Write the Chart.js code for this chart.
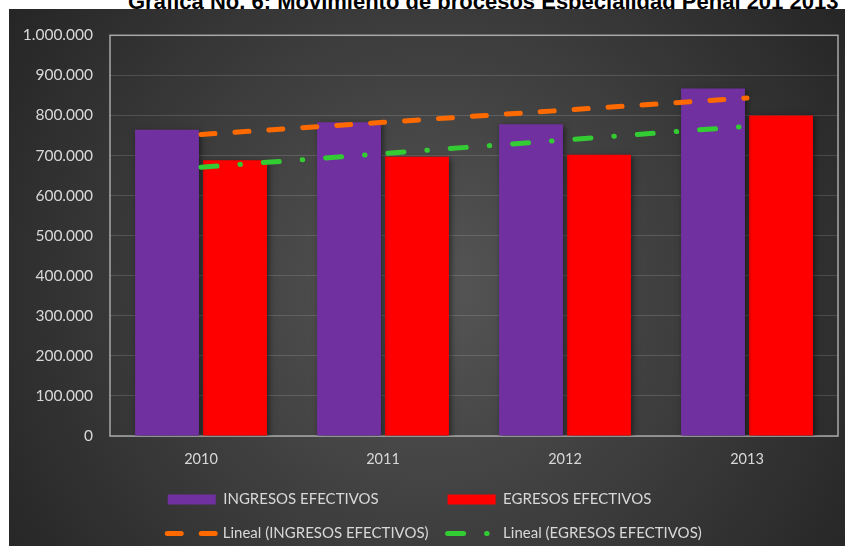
<!DOCTYPE html>
<html>
<head>
<meta charset="utf-8">
<script src="https://cdn.jsdelivr.net/npm/chart.js@4.4.1/dist/chart.umd.min.js"></script>
<style>
  html, body { margin:0; padding:0; background:#ffffff; width:845px; height:546px; overflow:hidden; position:relative; }
  #title { position:absolute; left:128px; top:-9px; font:bold 22px "Liberation Sans", Arial, sans-serif; line-height:21px; color:#000; white-space:nowrap; z-index:0; }
  #wrap { position:absolute; left:9px; top:9px; width:839px; height:542px; z-index:1; }
</style>
</head>
<body>
<div id="title">Gráfica No. 6: Movimiento de procesos Especialidad Penal 201 2013</div>
<div id="wrap"><canvas id="c" width="839" height="542"></canvas></div>
<script>
// ---- data ----
const categories = ['2010', '2011', '2012', '2013'];
const ingresos = [764000, 783000, 778000, 867000];
const egresos  = [688000, 697000, 702000, 800000];
const seriesLabels = ['INGRESOS EFECTIVOS', 'EGRESOS EFECTIVOS'];
const trendLabels = ['Lineal (INGRESOS EFECTIVOS)', 'Lineal (EGRESOS EFECTIVOS)'];
const yTickValues = [0, 100000, 200000, 300000, 400000, 500000, 600000, 700000, 800000, 900000, 1000000];

// least-squares linear trend of a series (Excel "Lineal" trendline)
function linearTrend(vals) {
  const n = vals.length;
  const xs = vals.map((_, i) => i + 1);
  const mx = xs.reduce((a, b) => a + b, 0) / n;
  const my = vals.reduce((a, b) => a + b, 0) / n;
  let sxy = 0, sxx = 0;
  for (let i = 0; i < n; i++) { sxy += (xs[i] - mx) * (vals[i] - my); sxx += (xs[i] - mx) ** 2; }
  const b = sxy / sxx, a = my - b * mx;
  return xs.map(x => a + b * x);
}
const fmt = v => String(v).replace(/\B(?=(\d{3})+(?!\d))/g, '.');

const FONT = 'Lato';
const TXT = '#d8d8d8';
const LEG_SIZE = 15;

// measure helper to align legend columns
const mctx = document.createElement('canvas').getContext('2d');
mctx.font = LEG_SIZE + 'px ' + FONT;
function padTo(text, ref) {
  const target = mctx.measureText(ref).width;
  let t = text;
  while (mctx.measureText(t + ' ').width <= target + 0.5) t += ' ';
  return t;
}

const bgPlugin = {
  id: 'bg',
  beforeDraw(chart) {
    const { ctx, width, height } = chart;
    ctx.save();
    const g = ctx.createRadialGradient(width * 0.5, height * 0.52, 0, width * 0.5, height * 0.52, width * 0.62);
    g.addColorStop(0, '#565656');
    g.addColorStop(1, '#242424');
    ctx.fillStyle = g;
    ctx.fillRect(0, 0, width, height);
    ctx.restore();
  },
  beforeDatasetsDraw(chart) {
    const { ctx, chartArea: a } = chart;
    ctx.save();
    ctx.strokeStyle = '#a8a8a8';
    ctx.lineWidth = 1.5;
    ctx.strokeRect(a.left, a.top, a.right - a.left, a.bottom - a.top);
    ctx.restore();
  },
  beforeDatasetDraw(chart, args) {
    if (chart.data.datasets[args.index].type === 'bar') {
      const ctx = chart.ctx;
      ctx.save();
      ctx.shadowColor = 'rgba(0,0,0,0.5)';
      ctx.shadowBlur = 6;
      ctx.shadowOffsetX = 2;
      ctx.shadowOffsetY = 2;
    }
  },
  afterDatasetDraw(chart, args) {
    if (chart.data.datasets[args.index].type === 'bar') chart.ctx.restore();
  }
};

new Chart(document.getElementById('c'), {
  data: {
    labels: categories,
    datasets: [
      { type: 'bar', label: seriesLabels[0], data: ingresos, backgroundColor: '#7030a0', borderWidth: 0, pointStyle: 'rect', order: 2,
        categoryPercentage: 0.747, barPercentage: 0.94 },
      { type: 'bar', label: seriesLabels[1], data: egresos, backgroundColor: '#ff0000', borderWidth: 0, pointStyle: 'rect', order: 2,
        categoryPercentage: 0.747, barPercentage: 0.94 },
      { type: 'line', label: trendLabels[0], data: linearTrend(ingresos), borderColor: '#ff6a00', backgroundColor: '#ff6a00',
        borderWidth: 5, borderDash: [14, 20], borderCapStyle: 'round', pointRadius: 0, pointStyle: 'line', tension: 0, fill: false, order: 0 },
      { type: 'line', label: trendLabels[1], data: linearTrend(egresos), borderColor: '#33cc33', backgroundColor: '#33cc33',
        borderWidth: 5, borderDash: [16, 23, 0.5, 23], borderCapStyle: 'round', pointRadius: 0, pointStyle: 'line', tension: 0, fill: false, order: 0 }
    ]
  },
  options: {
    responsive: false,
    animation: false,
    layout: { padding: { left: 12, right: 0, top: 21, bottom: 0 } },
    plugins: {
      tooltip: { enabled: false },
      title: { display: false },
      legend: {
        position: 'bottom',
        labels: {
          usePointStyle: true,
          pointStyleWidth: 48,
          boxHeight: 10,
          padding: 19,
          color: TXT,
          font: { family: FONT, size: LEG_SIZE },
          generateLabels(chart) {
            const items = Chart.defaults.plugins.legend.labels.generateLabels(chart);
            items.sort((a, b) => a.datasetIndex - b.datasetIndex);
            items.forEach(it => {
              const ds = chart.data.datasets[it.datasetIndex];
              if (ds.borderDash) { it.lineDash = ds.borderDash; it.lineCap = ds.borderCapStyle; it.lineWidth = ds.borderWidth; }
            });
            items[0].text = padTo(items[0].text, trendLabels[0]);
            items[1].text = padTo(items[1].text, trendLabels[1]);
            return items;
          }
        }
      }
    },
    scales: {
      x: {
        grid: { display: false, drawTicks: false },
        border: { display: false },
        ticks: { color: TXT, font: { family: FONT, size: 14.5 }, padding: 15 },
        afterFit(s) { s.height = 37; }
      },
      y: {
        min: 0, max: 1000000,
        afterBuildTicks(s) { s.ticks = yTickValues.map(v => ({ value: v })); },
        grid: { color: 'rgba(255,255,255,0.14)', lineWidth: 1, drawTicks: false },
        border: { display: false },
        ticks: { color: TXT, font: { family: FONT, size: 15.5 }, padding: 17, callback: v => fmt(v) },
        afterFit(s) { s.width = 89; }
      },
      yRight: {
        position: 'right',
        min: 0, max: 1000000,
        grid: { display: false, drawTicks: false },
        border: { display: false },
        ticks: { display: false },
        afterFit(s) { s.width = 10; }
      }
    }
  },
  plugins: [bgPlugin]
});
</script>
</body>
</html>
